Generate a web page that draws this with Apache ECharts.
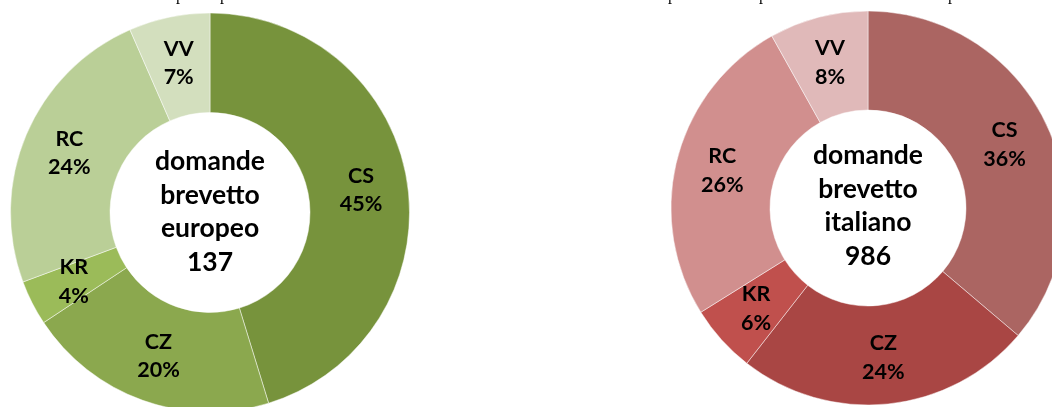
<!DOCTYPE html>
<html>
<head>
<meta charset="utf-8">
<script src="https://cdn.jsdelivr.net/npm/echarts@6/dist/echarts.min.js"></script>
<style>
html,body{margin:0;padding:0;background:#fff;}
#chart{width:1052px;height:407px;}
</style>
</head>
<body>
<div id="chart"></div>
<script>
// Categories (provinces)
const categories = ['CS', 'CZ', 'KR', 'RC', 'VV'];
// Counts (totals 137 and 986)
const europeanValues = [62, 28, 5, 33, 9];
const italianValues = [357, 240, 55, 254, 80];
const europeanTitle = ['domande', 'brevetto', 'europeo', '137'];
const italianTitle = ['domande', 'brevetto', 'italiano', '986'];
const greenColors = ['#77933C', '#8BA84E', '#9BBB59', '#BACF97', '#D3DFBE'];
const redColors = ['#AB6562', '#A94644', '#C0504D', '#D18F8E', '#E0B9B9'];

const FONT = 'Lato';

function pieSeries(values, colors, center, radius) {
  return {
    type: 'pie',
    center: center,
    radius: radius,
    startAngle: 90,
    clockwise: true,
    percentPrecision: 0,
    avoidLabelOverlap: false,
    silent: true,
    data: categories.map((c, i) => ({
      name: c, value: values[i],
      itemStyle: { color: colors[i] }
    })),
    itemStyle: { borderColor: 'rgba(255,255,255,0.6)', borderWidth: 0.8 },
    label: {
      show: true,
      position: 'inside',
      formatter: '{b}\n{d}%',
      fontFamily: FONT,
      fontWeight: 'bold',
      fontSize: 21.5,
      lineHeight: 28.5,
      color: '#000'
    },
    labelLine: { show: false }
  };
}

function centerText(lines, x, y) {
  return {
    type: 'text',
    x: x, y: y,
    style: {
      text: lines.join('\n'),
      fontFamily: FONT,
      fontWeight: 'bold',
      fontSize: 26.5,
      lineHeight: 33.5,
      fill: '#000',
      align: 'center',
      verticalAlign: 'middle'
    }
  };
}

// descenders of a cut-off title line at the very top
const cutGlyphX = [180, 224, 672, 763, 952];

const chart = echarts.init(document.getElementById('chart'), null, { renderer: 'canvas' });
chart.setOption({
  backgroundColor: '#fff',
  animation: false,
  series: [
    pieSeries(europeanValues, greenColors, [210, 212.5], [100, 199.5]),
    pieSeries(italianValues, redColors, [868, 208], [98, 197])
  ],
  graphic: [
    centerText(europeanTitle, 210, 212),
    centerText(italianTitle, 868, 206)
  ].concat(cutGlyphX.map(x => ({
    type: 'text', x: x, y: -12,
    style: {
      text: 'p', fontFamily: 'Liberation Serif', fontSize: 16,
      fill: '#000', align: 'center', verticalAlign: 'top'
    }
  })))
});
</script>
</body>
</html>
